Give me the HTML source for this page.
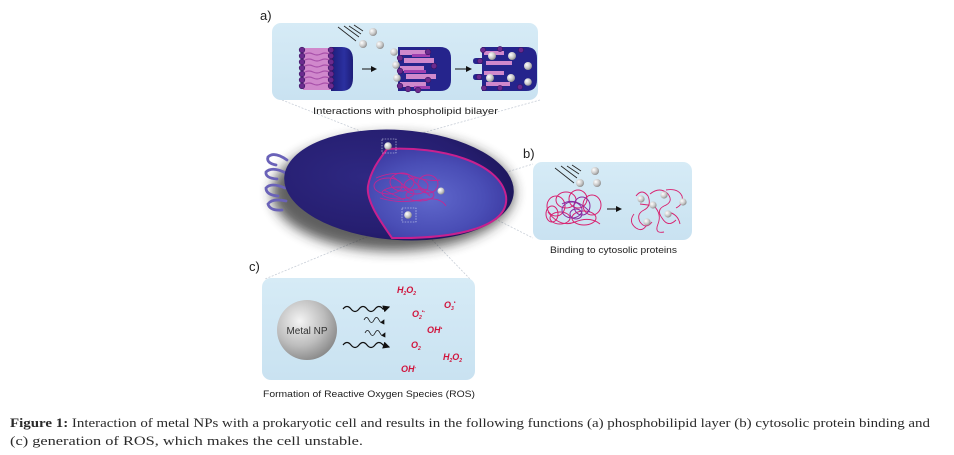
<!DOCTYPE html>
<html><head><meta charset="utf-8"><style>
html,body{margin:0;padding:0;background:#fff;}
svg{display:block;}
</style></head><body>
<svg width="954" height="455" viewBox="0 0 954 455" xmlns="http://www.w3.org/2000/svg">
<defs>
  <radialGradient id="cellOut" cx="0.35" cy="0.45" r="0.7">
    <stop offset="0" stop-color="#2e2882"/>
    <stop offset="0.7" stop-color="#261e70"/>
    <stop offset="1" stop-color="#1c1558"/>
  </radialGradient>
  <radialGradient id="cellIn" cx="0.45" cy="0.55" r="0.65">
    <stop offset="0" stop-color="#6068cc"/>
    <stop offset="0.6" stop-color="#4a4eb6"/>
    <stop offset="1" stop-color="#3a369e"/>
  </radialGradient>
  <radialGradient id="np" cx="0.38" cy="0.35" r="0.75">
    <stop offset="0" stop-color="#f4f4f4"/>
    <stop offset="0.55" stop-color="#bdbdbd"/>
    <stop offset="1" stop-color="#7e7e7e"/>
  </radialGradient>
  <radialGradient id="ball" cx="0.35" cy="0.35" r="0.7">
    <stop offset="0" stop-color="#ffffff"/>
    <stop offset="0.6" stop-color="#c8c8c8"/>
    <stop offset="1" stop-color="#8a8a8a"/>
  </radialGradient>
  <linearGradient id="panel" x1="0" y1="0" x2="0" y2="1">
    <stop offset="0" stop-color="#d6ebf6"/>
    <stop offset="1" stop-color="#c9e2f1"/>
  </linearGradient>
  <linearGradient id="cap" x1="0" y1="0" x2="1" y2="0">
    <stop offset="0" stop-color="#1d1d7a"/>
    <stop offset="0.6" stop-color="#2b30a0"/>
    <stop offset="1" stop-color="#1d1d78"/>
  </linearGradient>
  <filter id="blur" x="-20%" y="-30%" width="140%" height="160%">
    <feGaussianBlur stdDeviation="6"/>
  </filter>
  <marker id="arr" markerWidth="6" markerHeight="6" refX="5" refY="3" orient="auto">
    <path d="M0,0 L6,3 L0,6 Z" fill="#111"/>
  </marker>
</defs>

<rect width="954" height="455" fill="#fff"/>

<!-- connector lines -->
<g stroke="#c9cfd8" stroke-width="0.8" fill="none" stroke-dasharray="2,1.5">
  <line x1="282" y1="100" x2="383" y2="140"/>
  <line x1="540" y1="100" x2="397" y2="140"/>
  <line x1="442" y1="192" x2="533" y2="164"/>
  <line x1="442" y1="192" x2="533" y2="238"/>
  <line x1="403" y1="222" x2="265" y2="279"/>
  <line x1="415" y1="222" x2="470" y2="279"/>
</g>

<!-- panel a -->
<text x="260" y="20" font-family="Liberation Sans, sans-serif" font-size="13" fill="#222">a)</text>
<rect x="272" y="23" width="266" height="77" rx="9" fill="url(#panel)"/>
<g stroke="#222" stroke-width="0.8">
  <line x1="338" y1="27" x2="356" y2="41"/>
  <line x1="344" y1="26" x2="359" y2="37"/>
  <line x1="349" y1="26" x2="361" y2="34"/>
  <line x1="354" y1="25" x2="363" y2="31"/>
</g>
<circle cx="373" cy="32" r="4" fill="url(#ball)"/>
<circle cx="363" cy="44" r="4" fill="url(#ball)"/>
<circle cx="380" cy="45" r="4" fill="url(#ball)"/>

<rect x="303" y="48" width="30" height="42" fill="#d088cc"/>
<g stroke="#a850aa" stroke-width="1.2" fill="none">
  <path d="M305,54 q4,-2 8,0 t8,0 t8,0"/>
  <path d="M305,60 q4,-2 8,0 t8,0 t8,0"/>
  <path d="M305,66 q4,-2 8,0 t8,0 t8,0"/>
  <path d="M305,72 q4,-2 8,0 t8,0 t8,0"/>
  <path d="M305,78 q4,-2 8,0 t8,0 t8,0"/>
  <path d="M305,84 q4,-2 8,0 t8,0 t8,0"/>
</g>
<path d="M331,47 L342,47 Q353,47 353,60 L353,78 Q353,91 342,91 L331,91 Z" fill="url(#cap)"/>
<g fill="#6b2a8e" stroke="#3b1462" stroke-width="0.6">
  <circle cx="302" cy="50" r="2.8"/><circle cx="302" cy="56" r="2.8"/><circle cx="302" cy="62" r="2.8"/>
  <circle cx="302" cy="68" r="2.8"/><circle cx="302" cy="74" r="2.8"/><circle cx="302" cy="80" r="2.8"/><circle cx="302" cy="86" r="2.8"/>
  <circle cx="331" cy="50" r="2.8"/><circle cx="331" cy="56" r="2.8"/><circle cx="331" cy="62" r="2.8"/>
  <circle cx="331" cy="68" r="2.8"/><circle cx="331" cy="74" r="2.8"/><circle cx="331" cy="80" r="2.8"/><circle cx="331" cy="86" r="2.8"/>
</g>
<line x1="362" y1="69" x2="376" y2="69" stroke="#111" stroke-width="1" marker-end="url(#arr)"/>

<path d="M398,47 L440,47 Q451,47 451,58 L451,80 Q451,91 440,91 L398,91 Z" fill="#25248c"/>
<g fill="#d088cc">
  <rect x="400" y="50" width="26" height="5"/>
  <rect x="404" y="58" width="30" height="5"/>
  <rect x="400" y="66" width="24" height="5"/>
  <rect x="406" y="74" width="30" height="5"/>
  <rect x="400" y="82" width="26" height="5"/>
</g>
<g fill="#a040b0">
  <rect x="412" y="54" width="18" height="3"/>
  <rect x="404" y="70" width="22" height="3"/>
  <rect x="414" y="86" width="16" height="3"/>
</g>
<g fill="#6b2a8e" stroke="#3b1462" stroke-width="0.6">
  <circle cx="400" cy="58" r="2.8"/><circle cx="400" cy="71" r="2.8"/><circle cx="400" cy="86" r="2.8"/>
  <circle cx="428" cy="52" r="2.8"/><circle cx="434" cy="66" r="2.8"/><circle cx="428" cy="80" r="2.8"/>
  <circle cx="418" cy="90" r="2.8"/><circle cx="408" cy="89" r="2.8"/>
</g>
<circle cx="394" cy="52" r="3.8" fill="url(#ball)"/>
<circle cx="396" cy="65" r="3.8" fill="url(#ball)"/>
<circle cx="397" cy="78" r="3.8" fill="url(#ball)"/>
<line x1="455" y1="69" x2="471" y2="69" stroke="#111" stroke-width="1" marker-end="url(#arr)"/>

<path d="M482,47 L526,47 Q537,47 537,58 L537,80 Q537,91 526,91 L482,91 L482,80 L476,80 Q473,80 473,77 Q473,74 476,74 L482,74 L482,64 L476,64 Q473,64 473,61 Q473,58 476,58 L482,58 Z" fill="#25248c"/>
<g fill="#d088cc">
  <rect x="484" y="51" width="20" height="4"/>
  <rect x="486" y="61" width="26" height="4"/>
  <rect x="484" y="71" width="20" height="4"/>
  <rect x="486" y="82" width="24" height="4"/>
</g>
<g fill="#6b2a8e" stroke="#3b1462" stroke-width="0.6">
  <circle cx="483" cy="50" r="2.6"/><circle cx="500" cy="49" r="2.6"/><circle cx="521" cy="50" r="2.6"/>
  <circle cx="480" cy="61" r="2.6"/><circle cx="479" cy="77" r="2.6"/><circle cx="520" cy="87" r="2.6"/>
  <circle cx="500" cy="88" r="2.6"/><circle cx="484" cy="88" r="2.6"/>
</g>
<circle cx="492" cy="56" r="4" fill="url(#ball)"/>
<circle cx="512" cy="56" r="4" fill="url(#ball)"/>
<circle cx="528" cy="66" r="4" fill="url(#ball)"/>
<circle cx="490" cy="78" r="4" fill="url(#ball)"/>
<circle cx="511" cy="78" r="4" fill="url(#ball)"/>
<circle cx="528" cy="82" r="3.8" fill="url(#ball)"/>

<text x="313" y="114" font-family="Liberation Sans, sans-serif" font-size="9.5" fill="#222" textLength="185" lengthAdjust="spacingAndGlyphs">Interactions with phospholipid bilayer</text>

<!-- cell -->
<ellipse cx="393" cy="193" rx="121" ry="58" fill="#2a2a2a" opacity="0.75" filter="url(#blur)"/>
<g stroke="#6a62b8" stroke-width="2.8" fill="none" stroke-linecap="round">
  <path d="M287,160 Q274,151 268,157 Q266,163 276,165"/>
  <path d="M286,173 Q272,166 266,172 Q265,178 277,179"/>
  <path d="M285,188 Q271,182 266,188 Q266,195 278,196"/>
  <path d="M286,201 Q272,198 268,204 Q270,211 282,210"/>
</g>
<ellipse cx="399" cy="185" rx="115" ry="55" fill="url(#cellOut)" transform="rotate(4 399 185)"/>
<path d="M387,149 C440,146 500,162 506,196 C510,226 460,239 392,238 C378,218 366,200 368,186 C371,170 379,160 387,149 Z" fill="url(#cellIn)" stroke="#c8208f" stroke-width="2"/>
<g stroke="#d0228f" stroke-width="0.9" fill="none" opacity="0.9">
  <ellipse cx="388" cy="186" rx="14" ry="8"/>
  <ellipse cx="402" cy="182" rx="12" ry="9"/>
  <ellipse cx="416" cy="186" rx="12" ry="8"/>
  <ellipse cx="428" cy="184" rx="10" ry="9"/>
  <ellipse cx="398" cy="193" rx="16" ry="6"/>
  <ellipse cx="420" cy="195" rx="14" ry="6"/>
  <path d="M376,178 Q395,170 412,176 T440,180"/>
  <path d="M380,198 Q400,204 420,200 T446,206"/>
  <path d="M384,190 L404,200 M392,176 L410,190 M408,176 L430,196"/>
</g>
<g stroke="#dde3f5" stroke-width="0.6" fill="none" stroke-dasharray="1.5,1.2">
  <rect x="382" y="139" width="14" height="14"/>
  <rect x="402" y="208" width="14" height="14"/>
</g>
<circle cx="388" cy="146" r="3.8" fill="url(#ball)"/>
<circle cx="441" cy="191" r="3.5" fill="url(#ball)"/>
<circle cx="408" cy="215" r="3.8" fill="url(#ball)"/>

<!-- panel b -->
<text x="523" y="158" font-family="Liberation Sans, sans-serif" font-size="13" fill="#222">b)</text>
<rect x="533" y="162" width="159" height="78" rx="9" fill="url(#panel)"/>
<g stroke="#222" stroke-width="0.8">
  <line x1="555" y1="168" x2="574" y2="183"/>
  <line x1="561" y1="166" x2="577" y2="178"/>
  <line x1="567" y1="166" x2="579" y2="174"/>
  <line x1="572" y1="165" x2="581" y2="171"/>
</g>
<circle cx="595" cy="171" r="4" fill="url(#ball)"/>
<circle cx="580" cy="183" r="4" fill="url(#ball)"/>
<circle cx="597" cy="183" r="4" fill="url(#ball)"/>
<g fill="none" stroke-width="1">
  <g stroke="#d8206f">
    <ellipse cx="556" cy="206" rx="9" ry="10"/>
    <ellipse cx="566" cy="200" rx="10" ry="8"/>
    <ellipse cx="578" cy="199" rx="9" ry="9"/>
    <ellipse cx="592" cy="205" rx="9" ry="10"/>
    <ellipse cx="560" cy="218" rx="10" ry="6"/>
    <ellipse cx="584" cy="218" rx="12" ry="7"/>
    <ellipse cx="552" cy="214" rx="6" ry="8"/>
    <path d="M548,212 Q560,228 575,222 T600,224"/>
  </g>
  <g stroke="#8a2aa0">
    <ellipse cx="572" cy="210" rx="10" ry="8"/>
    <ellipse cx="582" cy="206" rx="8" ry="9"/>
    <ellipse cx="576" cy="214" rx="6" ry="5"/>
    <path d="M562,204 Q575,196 590,212"/>
  </g>
</g>
<line x1="607" y1="209" x2="621" y2="209" stroke="#111" stroke-width="1" marker-end="url(#arr)"/>
<g fill="none" stroke="#d8206f" stroke-width="0.9">
  <path d="M636,196 Q642,188 648,196 Q652,206 644,210 Q636,214 640,222 Q646,230 652,222"/>
  <path d="M650,194 Q660,186 668,194 Q674,202 664,206 Q656,210 662,218 Q668,228 676,220"/>
  <path d="M666,190 Q678,188 682,196 Q684,204 676,208"/>
  <path d="M634,214 Q628,222 636,228 Q642,232 646,226"/>
  <path d="M654,206 Q662,214 658,224 Q654,234 664,232"/>
  <path d="M640,204 L656,206 M668,212 Q678,214 680,224"/>
</g>
<circle cx="641" cy="199" r="3.6" fill="url(#ball)"/>
<circle cx="664" cy="195" r="3.6" fill="url(#ball)"/>
<circle cx="683" cy="202" r="3.6" fill="url(#ball)"/>
<circle cx="653" cy="205" r="3.6" fill="url(#ball)"/>
<circle cx="668" cy="214" r="3.6" fill="url(#ball)"/>
<circle cx="647" cy="222" r="3.6" fill="url(#ball)"/>
<text x="550" y="253" font-family="Liberation Sans, sans-serif" font-size="9.5" fill="#222" textLength="127" lengthAdjust="spacingAndGlyphs">Binding to cytosolic proteins</text>

<!-- panel c -->
<text x="249" y="271" font-family="Liberation Sans, sans-serif" font-size="13" fill="#222">c)</text>
<rect x="262" y="278" width="213" height="102" rx="9" fill="url(#panel)"/>
<circle cx="307" cy="330" r="30" fill="url(#np)"/>
<text x="307" y="334" text-anchor="middle" font-family="Liberation Sans, sans-serif" font-size="10" fill="#333">Metal NP</text>
<g fill="none" stroke="#111" stroke-width="1.2">
  <path d="M343,309 q4,-5 8,0 t8,0 t8,0 t8,0 t8,0 l6,-2" marker-end="url(#arr)"/>
  <path d="M343,345 q4,-5 8,0 t8,0 t8,0 t8,0 t8,0 l6,2" marker-end="url(#arr)"/>
</g>
<g fill="none" stroke="#111" stroke-width="0.8">
  <path d="M364,320 q2.5,-5 5,0 t5,0 t5,0 t5,0" marker-end="url(#arr)"/>
  <path d="M365,333 q2.5,-5 5,0 t5,0 t5,0 t5,0" marker-end="url(#arr)"/>
</g>
<g font-family="Liberation Sans, sans-serif" font-size="9" font-weight="bold" font-style="italic" fill="#d0143c">
  <text x="397" y="293">H<tspan font-size="5" dy="2">2</tspan><tspan dy="-2">O</tspan><tspan font-size="5" dy="2">2</tspan></text>
  <text x="412" y="317">O<tspan font-size="5" dy="2">2</tspan><tspan font-size="5" dy="-6">•-</tspan></text>
  <text x="444" y="308">O<tspan font-size="5" dy="2">3</tspan><tspan font-size="5" dy="-6">•</tspan></text>
  <text x="427" y="333">OH<tspan font-size="5" dy="-3">•</tspan></text>
  <text x="411" y="348">O<tspan font-size="5" dy="2">2</tspan></text>
  <text x="443" y="360">H<tspan font-size="5" dy="2">2</tspan><tspan dy="-2">O</tspan><tspan font-size="5" dy="2">2</tspan></text>
  <text x="401" y="372">OH<tspan font-size="5" dy="-3">-</tspan></text>
</g>
<text x="263" y="397" font-family="Liberation Sans, sans-serif" font-size="9.5" fill="#222" textLength="212" lengthAdjust="spacingAndGlyphs">Formation of Reactive Oxygen Species (ROS)</text>

<!-- caption -->
<text x="10" y="427" font-family="Liberation Serif, serif" font-size="12.5" fill="#2a2a2a" textLength="920" lengthAdjust="spacingAndGlyphs"><tspan font-weight="bold">Figure 1:</tspan> Interaction of metal NPs with a prokaryotic cell and results in the following functions (a) phosphobilipid layer (b) cytosolic protein binding and</text>
<text x="10" y="445" font-family="Liberation Serif, serif" font-size="12.5" fill="#2a2a2a" textLength="353" lengthAdjust="spacingAndGlyphs">(c) generation of ROS, which makes the cell unstable.</text>
</svg>
</body></html>
